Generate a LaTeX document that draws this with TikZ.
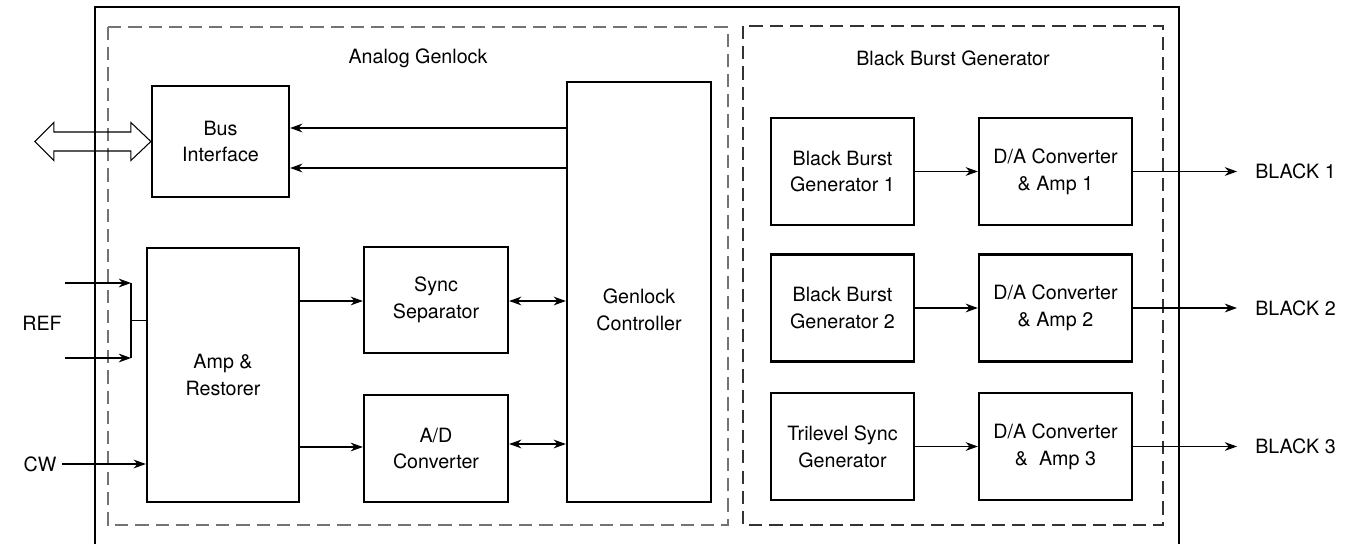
\documentclass[tikz,border=0pt]{standalone}
\usepackage{fontspec}
\setmainfont{TeX Gyre Heros}
\usetikzlibrary{arrows.meta,calc}

\begin{document}
\begin{tikzpicture}[x=0.02cm, y=-0.02cm,
  every node/.style={font=\fontsize{11.2}{15.3}\selectfont, align=center},
  blk/.style={draw, line width=1.3pt, inner sep=0pt},
  grp/.style={line width=0.6pt, dash pattern=on 7.5pt off 4pt},
  wire/.style={line width=0.6pt},
  arr/.style={wire, -{Stealth[length=7pt,width=5pt]}},
  dbl/.style={wire, {Stealth[length=7pt,width=5pt]}-{Stealth[length=7pt,width=5pt]}}]
  \useasboundingbox (0,0) rectangle (1348,544);
  % Frame and groups
  \draw[wire] (95,544) -- (95,7) -- (1179,7) -- (1179,544);
  \draw[grp, black!55, line width=0.75pt] (108,27) rectangle (728,525);
  \draw[grp, black!80] (743,26) rectangle (1163,525);
  \node (tgen) at (418,58) {Analog Genlock};
  \node (tbbg) at (953,58) {Black Burst Generator};
  % Analog genlock blocks
  \node[blk, minimum width=2.74cm, minimum height=2.22cm] (bus) at (220.5,141.5) {Bus\\Interface};
  \node[blk, minimum width=3.04cm, minimum height=5.08cm] (amp) at (223,375) {Amp \&\\Restorer};
  \node[blk, minimum width=2.88cm, minimum height=2.12cm] (sync) at (436,300) {Sync\\Separator};
  \node[blk, minimum width=2.88cm, minimum height=2.14cm] (adc) at (436,448.5) {A/D\\Converter};
  \node[blk, minimum width=2.88cm, minimum height=8.40cm,
    label={[yshift=-0.36cm]center:Genlock\\Controller}] (genlock) at (639,292) {};
  % Black burst blocks
  \node[blk, minimum width=2.86cm, minimum height=2.14cm] (bbg1) at (842.5,171.5) {Black Burst\\Generator 1};
  \node[blk, minimum width=2.86cm, minimum height=2.14cm] (bbg2) at (842.5,308) {Black Burst\\Generator 2};
  \node[blk, minimum width=2.86cm, minimum height=2.14cm] (tri) at (842.5,446.5) {Trilevel Sync\\Generator};
  \node[blk, minimum width=3.06cm, minimum height=2.14cm] (dac1) at (1055.5,171.5) {D/A Converter\\\& Amp 1};
  \node[blk, minimum width=3.06cm, minimum height=2.14cm] (dac2) at (1055.5,308) {D/A Converter\\\& Amp 2};
  \node[blk, minimum width=3.06cm, minimum height=2.14cm] (dac3) at (1055.5,446.5) {D/A Converter\\\&~~Amp 3};
  % Signal labels
  \node (ref) at (42,323) {REF};
  \node (cw) at (40,464) {CW};
  \node[anchor=west, inner sep=0pt] (out1) at (1255,171.5) {BLACK 1};
  \node[anchor=west, inner sep=0pt] (out2) at (1255,308) {BLACK 2};
  \node[anchor=west, inner sep=0pt] (out3) at (1255,446.5) {BLACK 3};
  \coordinate (r1) at (65,283);
  \coordinate (r2) at (65,358);
  \coordinate (j1) at (131,283);
  \coordinate (j2) at (131,358);
  \coordinate (cwin) at (62,464);
  % Bus port
  \draw[wire] (bus.west) -- ++(-20,-19) -- ++(0,9.5) -- ++(-77,0) -- ++(0,-9.5)
    -- ++(-19,19) -- ++(19,19) -- ++(0,-9.5) -- ++(77,0) -- ++(0,9.5) -- cycle;
  % Inputs
  \draw[arr] (r1) -- (j1);
  \draw[arr] (r2) -- (j2);
  \draw[wire] (j1) -- (j2);
  \draw[wire] ($(j1)!0.5!(j2)$) -- (amp.west |- {$(j1)!0.5!(j2)$});
  \draw[arr] (cwin) -- (amp.west |- cwin);
  % Genlock paths
  \draw[arr] (genlock.west |- 0,128) -- (bus.east |- 0,128);
  \draw[arr] (genlock.west |- 0,168) -- (bus.east |- 0,168);
  \draw[arr] (amp.east |- 0,301) -- (sync.west |- 0,301);
  \draw[arr] (amp.east |- 0,447) -- (adc.west |- 0,447);
  \draw[dbl] (sync.east |- 0,301) -- (genlock.west |- 0,301);
  \draw[dbl] (adc.east |- 0,444) -- (genlock.west |- 0,444);
  % Outputs
  \draw[arr] (bbg1) -- (dac1);
  \draw[arr] (bbg2) -- (dac2);
  \draw[arr] (tri) -- (dac3);
  \draw[arr, shorten >=0.36cm] (dac1.east) -- (out1.west);
  \draw[arr, shorten >=0.36cm] (dac2.east) -- (out2.west);
  \draw[arr, shorten >=0.36cm] (dac3.east) -- (out3.west);
\end{tikzpicture}
\end{document}
